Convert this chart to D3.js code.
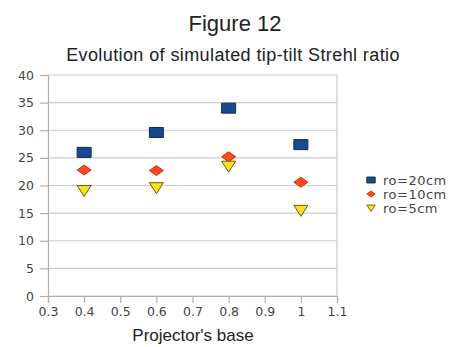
<!DOCTYPE html>
<html>
<head>
<meta charset="utf-8">
<script src="https://cdn.jsdelivr.net/npm/d3@7"></script>
<style>
body { margin: 0; background: #fff; }
text { font-family: "Liberation Sans", Arial, sans-serif; }
</style>
</head>
<body>
<div id="chart"></div>
<script>
var base = [0.4, 0.6, 0.8, 1.0];
var ro20 = [26.0, 29.6, 34.0, 27.4];
var ro10 = [22.8, 22.7, 25.2, 20.6];
var ro5 = [19.1, 19.6, 23.5, 15.5];
var seriesNames = ["ro=20cm", "ro=10cm", "ro=5cm"];
var xTicks = [0.3, 0.4, 0.5, 0.6, 0.7, 0.8, 0.9, 1, 1.1];
var yTicks = [0, 5, 10, 15, 20, 25, 30, 35, 40];

var W = 451, H = 347;
var margin = { top: 75, right: 114, bottom: 51, left: 48 };
var width = W - margin.left - margin.right,
    height = H - margin.top - margin.bottom;

var svg = d3.select('#chart').append('svg')
    .attr('width', W).attr('height', H);

svg.append('text').attr('x', 235).attr('y', 31)
    .attr('text-anchor', 'middle').attr('font-size', 22).attr('fill', '#222')
    .text('Figure 12');
svg.append('text').attr('x', 233).attr('y', 61)
    .attr('text-anchor', 'middle').attr('font-size', 18).attr('fill', '#222')
    .attr('letter-spacing', 0.4)
    .text('Evolution of simulated tip-tilt Strehl ratio');

var g = svg.append('g').attr('transform', 'translate(' + margin.left + ',' + margin.top + ')');

var x = d3.scaleLinear().domain([0.3, 1.1]).range([0, width]);
var y = d3.scaleLinear().domain([0, 40]).range([height, 0]);

// grid
g.selectAll('.grid').data(yTicks).enter().append('line')
    .attr('x1', 0).attr('x2', width)
    .attr('y1', function(d) { return y(d); }).attr('y2', function(d) { return y(d); })
    .attr('stroke', '#cccccc').attr('stroke-width', 1.2);
g.append('line').attr('x1', width).attr('x2', width).attr('y1', 0).attr('y2', height)
    .attr('stroke', '#cccccc').attr('stroke-width', 1.2);

var yAxis = g.append('g')
    .call(d3.axisLeft(y).tickValues(yTicks).tickSize(8).tickPadding(6));
var xAxis = g.append('g').attr('transform', 'translate(0,' + height + ')')
    .call(d3.axisBottom(x).tickValues(xTicks).tickSize(7).tickPadding(4)
        .tickFormat(function(d) { return d3.format('')(d); }));
[yAxis, xAxis].forEach(function(a) {
    a.selectAll('path, line').attr('stroke', '#b0b0b0').attr('stroke-width', 1.2);
    a.selectAll('text').attr('fill', '#444').attr('font-size', 12.5)
        .style('font-family', '"DejaVu Sans", sans-serif');
});

svg.append('text').attr('x', 193).attr('y', 341)
    .attr('text-anchor', 'middle').attr('font-size', 17).attr('fill', '#222')
    .text("Projector's base");

var shapes = [
    { vals: ro20, path: 'M-7,-5H7V5H-7Z', fill: '#1a4a8e', stroke: '#0d2a55' },
    { vals: ro10, path: 'M0,-5L7,0L0,5L-7,0Z', fill: '#ff4a1c', stroke: '#c03010' },
    { vals: ro5, path: 'M-7,-5H7L0,6Z', fill: '#ffe020', stroke: '#6a5a10' }
];

shapes.forEach(function(s) {
    g.selectAll(null).data(s.vals).enter().append('path')
        .attr('d', s.path)
        .attr('transform', function(d, i) { return 'translate(' + x(base[i]) + ',' + y(d) + ')'; })
        .attr('fill', s.fill).attr('stroke', s.stroke).attr('stroke-width', 1);
});

// legend
var leg = svg.append('g').attr('transform', 'translate(371,180)');
shapes.forEach(function(s, i) {
    var row = leg.append('g').attr('transform', 'translate(0,' + (i * 14) + ')');
    row.append('path').attr('d', s.path).attr('transform', 'scale(0.6)')
        .attr('fill', s.fill).attr('stroke', s.stroke).attr('stroke-width', 1.5);
    row.append('text').attr('x', 12).attr('y', 4.5).attr('font-size', 13).attr('fill', '#444')
        .attr('letter-spacing', 0.5)
        .style('font-family', '"DejaVu Sans", sans-serif')
        .text(seriesNames[i]);
});
</script>
</body>
</html>
